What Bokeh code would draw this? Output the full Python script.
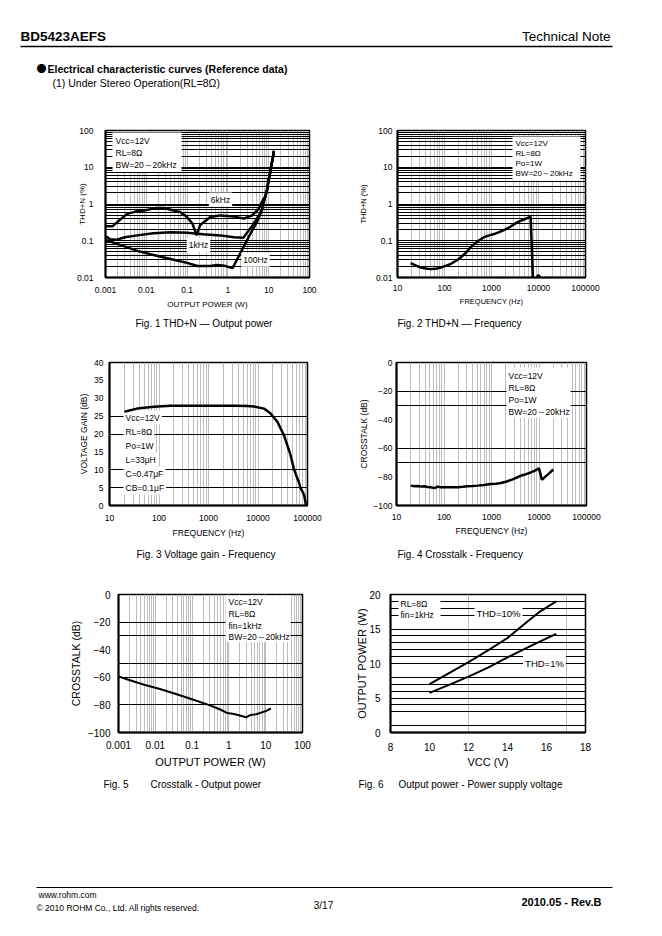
import math
from bokeh.plotting import figure
from bokeh.layouts import column, row
from bokeh.models import Range1d, FixedTicker, CustomJSTickFormatter
from bokeh.core.properties import value
from bokeh.embed import file_html
from bokeh.resources import INLINE

FONT = "Liberation Sans"
GRAY = "#bdbdbd"

# ---------------- data ----------------
# Fig.1 THD+N vs output power
c1_pow_6k = [0.001, 0.0015, 0.0022, 0.0034, 0.006, 0.01, 0.017, 0.027, 0.04, 0.069, 0.1, 0.136, 0.17,
             0.21, 0.37, 0.66, 1.38, 2.45, 3.9, 5.7, 7.5]
c1_thd_6k = [0.25, 0.25, 0.36, 0.54, 0.64, 0.68, 0.78, 0.78, 0.7, 0.6, 0.44, 0.29, 0.14,
             0.27, 0.44, 0.49, 0.46, 0.40, 0.49, 0.74, 1.4]
c1_pow_1k = [0.001, 0.0013, 0.0019, 0.003, 0.006, 0.015, 0.04, 0.1, 0.25, 0.65, 1.4, 2.4, 3.0, 4.0, 5.5, 6.9]
c1_thd_1k = [0.134, 0.11, 0.107, 0.125, 0.14, 0.16, 0.17, 0.165, 0.15, 0.14, 0.125, 0.12, 0.17, 0.26, 0.45, 0.72]
c1_pow_100 = [0.001, 0.0023, 0.006, 0.015, 0.039, 0.1, 0.18, 0.37, 0.55, 0.8, 1.3, 2.0, 3.5, 5.2, 6.9]
c1_thd_100 = [0.105, 0.077, 0.053, 0.041, 0.032, 0.025, 0.0205, 0.0205, 0.022, 0.021, 0.018, 0.045, 0.15, 0.33, 0.7]
c1_pow_clip = [8.0, 8.6, 9.2, 9.9, 11.0, 12.0, 13.0, 13.4]
c1_thd_clip = [1.45, 1.9, 2.6, 4.3, 7.8, 13.5, 22.0, 28.0]

# Fig.2 THD+N vs frequency
c2_freq = [19, 25, 31, 40, 51, 65, 83, 110, 136, 180, 220, 290, 360, 500, 690, 900, 1130, 1500, 1840,
           2400, 3000, 3600, 4170, 5000, 6250, 6800, 7600, 7900, 9000, 9700, 10300, 10800]
c2_thd = [0.0246, 0.021, 0.0187, 0.0175, 0.0169, 0.0172, 0.0187, 0.021, 0.0236, 0.029, 0.035, 0.048,
          0.067, 0.095, 0.125, 0.14, 0.152, 0.175, 0.196, 0.23, 0.28, 0.32, 0.35, 0.38, 0.43, 0.45,
          0.01, 0.006, 0.008, 0.0115, 0.0112, 0.009]

# Fig.3 voltage gain vs frequency
c3_freq = [20, 36, 79, 172, 400, 810, 2000, 3800, 6000, 8300, 13200, 18000, 24700, 33600, 45700,
           53000, 60000, 67000, 73000, 80000, 86000, 92000, 96000]
c3_gain = [26.2, 27.1, 27.6, 27.9, 27.9, 27.9, 27.9, 27.9, 27.8, 27.7, 27.1, 25.7, 23.4, 19.6, 14.0,
           10.3, 8.2, 6.5, 4.7, 3.8, 2.8, 0.5, -0.5]

# Fig.4 crosstalk vs frequency
c4_freq = [20, 24, 28, 33, 38, 45, 53, 60, 67, 73, 85, 101, 150, 193, 250, 313, 400, 507, 700, 970,
           1250, 1580, 2000, 2560, 3200, 4140, 5200, 6700, 8000, 10000, 11500, 14000, 17000, 20000]
c4_xt = [-86.1, -86.5, -86.3, -86.8, -86.5, -87.0, -87.3, -87.8, -87.5, -86.8, -87.2, -87.3, -87.2,
         -87.2, -86.9, -86.6, -86.4, -86.1, -85.6, -85.0, -84.8, -84.3, -83.4, -82.2, -80.9, -79.2,
         -78.2, -76.9, -75.8, -74.0, -82.0, -79.5, -77.0, -74.8]

# Fig.5 crosstalk vs output power
c5_pow = [0.001, 0.00176, 0.005, 0.0141, 0.04, 0.114, 0.32, 0.6, 0.91, 1.38, 2.35, 2.9, 3.9, 5.5, 7.4, 10, 13.8]
c5_xt = [-59.3, -61.6, -65.4, -68.7, -72.5, -76.5, -80.5, -83.5, -85.9, -86.6, -88.2, -89.0, -87.3,
         -86.8, -85.7, -84.5, -82.6]

# Fig.6 output power vs supply voltage
c6_vcc_10 = [10, 11, 12, 13, 14, 14.9, 15.6, 16.5]
c6_pow_10 = [7.0, 8.6, 10.2, 11.9, 13.7, 15.8, 17.4, 19.0]
c6_vcc_1 = [10, 11, 12, 13, 13.9, 15.3, 16.5]
c6_pow_1 = [5.75, 6.9, 8.1, 9.4, 10.75, 12.7, 14.3]

# tick values / labels
pow_ticks = [0.001, 0.01, 0.1, 1, 10, 100]
pow_labels = ["0.001", "0.01", "0.1", "1", "10", "100"]
thd_ticks = [0.01, 0.1, 1, 10, 100]
thd_labels = ["0.01", "0.1", "1", "10", "100"]
freq_ticks = [10, 100, 1000, 10000, 100000]
freq_labels = ["10", "100", "1000", "10000", "100000"]
gain_ticks = [0, 5, 10, 15, 20, 25, 30, 35, 40]
gain_labels = ["0", "5", "10", "15", "20", "25", "30", "35", "40"]
xt_ticks = [-100, -80, -60, -40, -20, 0]
xt_labels = ["\u2212100", "\u221280", "\u221260", "\u221240", "\u221220", "0"]
vcc_ticks = [8, 10, 12, 14, 16, 18]
vcc_labels = ["8", "10", "12", "14", "16", "18"]
op_ticks = [0, 5, 10, 15, 20]
op_labels = ["0", "5", "10", "15", "20"]

PAGE_W = 662


def decade_grid(lo, hi):
    vals = []
    for e in range(lo, hi):
        for m in range(1, 10):
            vals.append(m * 10.0 ** e)
    vals.append(10.0 ** hi)
    return vals


def fmt(vals, labs):
    return CustomJSTickFormatter(args=dict(vals=vals, labs=labs), code="""
        for (let i = 0; i < vals.length; i++) {
            if (Math.abs(vals[i] - tick) <= 1e-9 * Math.max(1, Math.abs(tick))) { return labs[i]; }
        }
        return "";
    """)


class Chart:
    def __init__(self, origin, size, frame, xr, yr, xlog, ylog):
        ox, oy = origin
        w, h = size
        L, R, T, B = frame
        self.L, self.R, self.T, self.B = frame
        self.xr, self.yr, self.xlog, self.ylog = xr, yr, xlog, ylog
        p = figure(width=w, height=h, x_range=Range1d(*xr), y_range=Range1d(*yr),
                   x_axis_type="log" if xlog else "linear",
                   y_axis_type="log" if ylog else "linear",
                   output_backend="svg", toolbar_location=None,
                   min_border_left=L - ox, min_border_right=ox + w - R,
                   min_border_top=T - oy, min_border_bottom=oy + h - B)
        p.outline_line_color = "black"
        p.outline_line_width = 1.5
        self.p = p

    def data(self, px, py):
        fx = (px - self.L) / (self.R - self.L)
        fy = (self.B - py) / (self.B - self.T)
        x0, x1 = self.xr
        y0, y1 = self.yr
        if self.xlog:
            x = 10 ** (math.log10(x0) + fx * (math.log10(x1) - math.log10(x0)))
        else:
            x = x0 + fx * (x1 - x0)
        if self.ylog:
            y = 10 ** (math.log10(y0) + fy * (math.log10(y1) - math.log10(y0)))
        else:
            y = y0 + fy * (y1 - y0)
        return x, y

    def axes(self, xt, xl, yt, yl, tick_size, xlab, ylab, xlab_size, ylab_size,
             xts, xls, yts, yls):
        p = self.p
        p.xaxis.ticker = FixedTicker(ticks=xt)
        p.yaxis.ticker = FixedTicker(ticks=yt)
        p.xaxis.formatter = fmt(xt, xl)
        p.yaxis.formatter = fmt(yt, yl)
        p.xaxis.axis_label = xlab
        p.yaxis.axis_label = ylab
        for ax in p.axis:
            ax.major_tick_out = 0
            ax.major_tick_in = 0
            ax.minor_tick_out = 0
            ax.minor_tick_in = 0
            ax.axis_line_color = "black"
            ax.axis_line_width = 2
            ax.major_label_text_font = FONT
            ax.major_label_text_font_size = f"{tick_size}px"
            ax.major_label_text_color = "black"
            ax.axis_label_text_font = FONT
            ax.axis_label_text_font_style = "normal"
            ax.axis_label_text_color = "black"
        p.xaxis.axis_label_text_font_size = f"{xlab_size}px"
        p.yaxis.axis_label_text_font_size = f"{ylab_size}px"
        p.xaxis.major_label_standoff = xts
        p.xaxis.axis_label_standoff = xls
        p.yaxis.major_label_standoff = yts
        p.yaxis.axis_label_standoff = yls

    def grids(self, vvals, hvals):
        p = self.p
        p.xgrid.ticker = FixedTicker(ticks=vvals)
        p.xgrid.grid_line_color = GRAY
        p.xgrid.grid_line_width = 1
        p.ygrid.ticker = FixedTicker(ticks=hvals)
        p.ygrid.grid_line_color = "black"
        p.ygrid.grid_line_width = 1
        p.xgrid.minor_grid_line_color = None
        p.ygrid.minor_grid_line_color = None

    def box(self, px0, py0, px1, py1):
        x0, y0 = self.data(px0, py1)
        x1, y1 = self.data(px1, py0)
        self.p.quad(left=[x0], right=[x1], bottom=[y0], top=[y1], fill_color="white", line_color=None)

    def text(self, px, py, s, size, align="left", bg=False):
        x, y = self.data(px, py)
        kw = {}
        if bg:
            kw = dict(background_fill_color="white", padding=2)
        self.p.text(x=[x], y=[y], text=[s], text_font=value(FONT), text_font_size=value(f"{size}px"),
                    text_align=align, text_baseline="middle", text_color="black", **kw)

    def curve(self, xs, ys, w=2.5):
        self.p.line(xs, ys, line_color="black", line_width=w)


def page_fig(y0, y1):
    p = figure(width=PAGE_W, height=y1 - y0, x_range=Range1d(0, PAGE_W), y_range=Range1d(y1, y0),
               x_axis_type=None, y_axis_type=None, output_backend="svg", toolbar_location=None,
               min_border=0)
    p.outline_line_color = None
    return p


def ptext(p, x, y, s, size, align="left", style="normal", font=FONT):
    p.text(x=[x], y=[y], text=[s], text_font=value(font), text_font_size=value(f"{size}px"),
           text_align=align, text_baseline="middle", text_font_style=style, text_color="black")


# ---------------- header ----------------
hdr = page_fig(0, 100)
ptext(hdr, 20, 36, "BD5423AEFS", 13.5, style="bold")
ptext(hdr, 610, 36, "Technical Note", 13.5, align="right")
hdr.segment(x0=[20], y0=[46], x1=[612], y1=[46], line_color="black", line_width=1.5)
ptext(hdr, 36, 68, "\u25cf", 10, font="Noto Sans CJK JP")
ptext(hdr, 47, 68, "Electrical characteristic curves (Reference data)", 10.5, style="bold")
ptext(hdr, 52, 82, "(1) Under Stereo Operation(RL=8\u03a9)", 10.5)

# ---------------- chart 1 ----------------
c1 = Chart((0, 100), (331, 216), (105, 309, 129, 278), (0.001, 100), (0.01, 100), True, True)
c1.axes(pow_ticks, pow_labels, thd_ticks, thd_labels, 8.5, "OUTPUT POWER (W)", "THD+N (%)", 8, 8,
        9, 4, 12, -13)
c1.grids(decade_grid(-3, 2), decade_grid(-2, 2))
c1.box(112, 131, 181, 171)
c1.text(115, 140, "Vcc=12V", 8.5)
c1.text(115, 152, "RL=8\u03a9", 8.5)
c1.text(115, 164, "BW=20\uff5e20kHz", 8.5)
c1.curve(c1_pow_6k + c1_pow_clip, c1_thd_6k + c1_thd_clip)
c1.curve(c1_pow_1k + c1_pow_clip, c1_thd_1k + c1_thd_clip)
c1.curve(c1_pow_100 + c1_pow_clip, c1_thd_100 + c1_thd_clip)
c1.text(220, 199, "6kHz", 8.5, align="center", bg=True)
c1.text(198, 245, "1kHz", 8.5, align="center", bg=True)
c1.text(255, 260, "100Hz", 8.5, align="center", bg=True)

# ---------------- chart 2 ----------------
c2 = Chart((331, 100), (331, 216), (397, 585, 130, 277), (10, 100000), (0.01, 100), True, True)
c2.axes(freq_ticks, freq_labels, thd_ticks, thd_labels, 8.5, "FREQUENCY (Hz)", "THD+N (%)", 7.5, 7.5,
        7, 3, 5, 5)
c2.grids(decade_grid(1, 5), decade_grid(-2, 2))
c2.box(512, 136, 580, 180)
c2.text(515, 143, "Vcc=12V", 8)
c2.text(515, 153, "RL=8\u03a9", 8)
c2.text(515, 163, "Po=1W", 8)
c2.text(515, 173, "BW=20\uff5e20kHz", 8)
c2.curve(c2_freq, c2_thd)

# ---------------- chart 3 ----------------
c3 = Chart((0, 340), (331, 206), (109, 307, 362, 505), (10, 100000), (0, 40), True, False)
c3.axes(freq_ticks, freq_labels, gain_ticks, gain_labels, 8.5, "FREQUENCY (Hz)", "VOLTAGE GAIN (dB)",
        8.5, 8.5, 9, 4, 6, 2)
c3.grids(decade_grid(1, 5), [5, 10, 20, 25])
for i, s in enumerate(["Vcc=12V", "RL=8\u03a9", "Po=1W", "L=33\u03bcH", "C=0.47\u03bcF", "CB=0.1\u03bcF"]):
    c3.text(123, 417 + 14 * i, s, 8.5, bg=True)
c3.curve(c3_freq, c3_gain)

# ---------------- chart 4 ----------------
c4 = Chart((331, 340), (331, 206), (396, 586, 362, 507), (10, 100000), (-100, 0), True, False)
c4.axes(freq_ticks, freq_labels, xt_ticks, xt_labels, 8.5, "FREQUENCY (Hz)", "CROSSTALK (dB)",
        8.5, 8.5, 8, 3, 4, 1)
c4.grids(decade_grid(1, 5), [-20, -30, -60, -70])
c4.box(506, 367, 570, 418)
c4.text(508, 376, "Vcc=12V", 8.5)
c4.text(508, 388, "RL=8\u03a9", 8.5)
c4.text(508, 400, "Po=1W", 8.5)
c4.text(508, 412, "BW=20\uff5e20kHz", 8.5)
c4.curve(c4_freq, c4_xt)

# ---------------- chart 5 ----------------
c5 = Chart((0, 570), (331, 206), (118, 302, 590, 732), (0.001, 100), (-100, 0), True, False)
c5.axes(pow_ticks, pow_labels, xt_ticks, xt_labels, 10, "OUTPUT POWER (W)", "CROSSTALK (dB)",
        11, 10.5, 8, 4, 8, 3)
c5.grids(decade_grid(-3, 2), [-20, -30, -50, -60, -80])
c5.box(225, 591, 290, 639)
c5.text(228, 598, "Vcc=12V", 8.5)
c5.text(228, 610, "RL=8\u03a9", 8.5)
c5.text(228, 622, "fin=1kHz", 8.5)
c5.text(228, 634, "BW=20\uff5e20kHz", 8.5)
c5.curve(c5_pow, c5_xt, 2)

# ---------------- chart 6 ----------------
c6 = Chart((331, 570), (331, 206), (390, 585, 594, 733), (8, 18), (0, 20), False, False)
c6.axes(vcc_ticks, vcc_labels, op_ticks, op_labels, 10, "VCC (V)", "OUTPUT POWER (W)",
        11, 11, 10, 2, 10, -2)
c6.grids([12, 17], [1, 3, 4, 5, 6, 7, 8, 10, 11, 12, 13, 14, 15, 17, 18, 19])
c6.box(398, 597, 440, 620)
c6.text(400, 604, "RL=8\u03a9", 8.5)
c6.text(400, 615, "fin=1kHz", 8.5)
c6.curve(c6_vcc_10, c6_pow_10, 2)
c6.curve(c6_vcc_1, c6_pow_1, 2)
c6.text(498, 613, "THD=10%", 9.5, align="center", bg=True)
c6.text(544, 663, "THD=1%", 9.5, align="center", bg=True)

# ---------------- captions ----------------
cap1 = page_fig(316, 340)
ptext(cap1, 135, 323, "Fig. 1 THD+N  \u2014  Output power", 10)
ptext(cap1, 397, 323, "Fig. 2 THD+N  \u2014  Frequency", 10)
cap2 = page_fig(546, 570)
ptext(cap2, 136, 554, "Fig. 3 Voltage gain - Frequency", 10)
ptext(cap2, 397, 554, "Fig. 4 Crosstalk - Frequency", 10)
cap3 = page_fig(776, 800)
ptext(cap3, 103, 784, "Fig. 5", 10)
ptext(cap3, 150, 784, "Crosstalk - Output power", 10)
ptext(cap3, 358, 784, "Fig. 6", 10)
ptext(cap3, 398, 784, "Output power - Power supply voltage", 10)

# ---------------- footer ----------------
ftr = page_fig(800, 936)
ftr.segment(x0=[36], y0=[887], x1=[612], y1=[887], line_color="black", line_width=1)
ptext(ftr, 38, 894, "www.rohm.com", 8.5)
ptext(ftr, 36, 907, "\u00a9 2010 ROHM Co., Ltd. All rights reserved.", 8.5)
ptext(ftr, 323, 905, "3/17", 10, align="center")
ptext(ftr, 607, 901, "2010.05  -  Rev.B", 11, align="right", style="bold")

layout = column(hdr, row(c1.p, c2.p), cap1, row(c3.p, c4.p), cap2, row(c5.p, c6.p), cap3, ftr)
open("out.html", "w").write(file_html(layout, INLINE))
